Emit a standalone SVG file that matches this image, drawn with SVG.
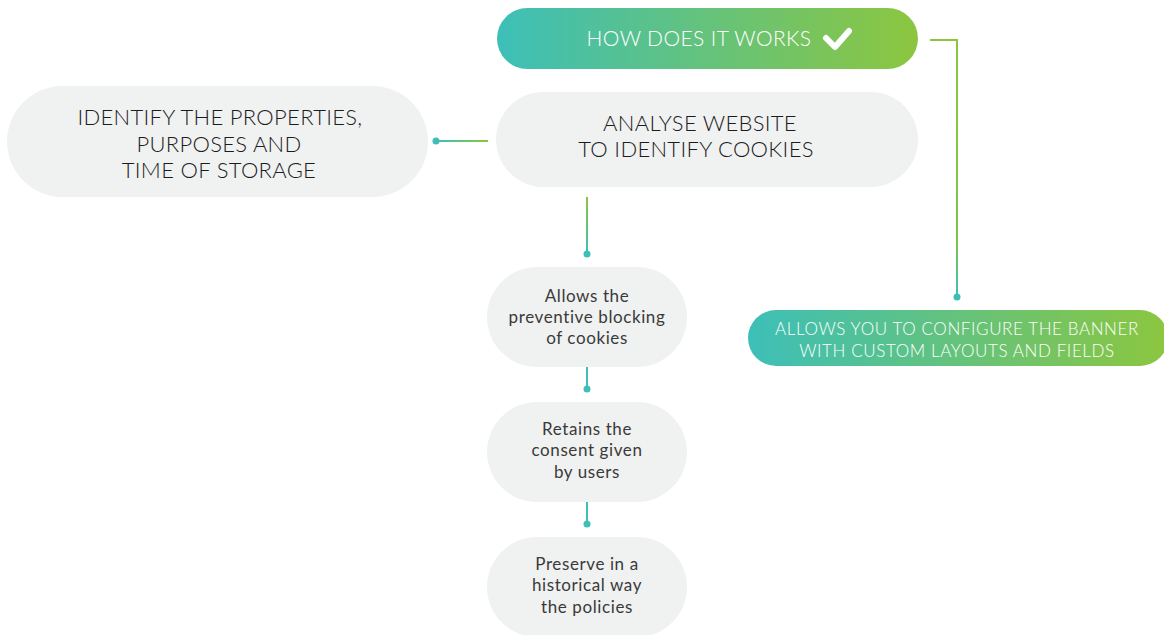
<svg xmlns="http://www.w3.org/2000/svg" width="1164" height="635" viewBox="0 0 1164 635">
<defs>
<linearGradient id="gH" x1="0" y1="0" x2="1" y2="0">
<stop offset="0" stop-color="#3dbfb8"/><stop offset="1" stop-color="#8cc63f"/>
</linearGradient>
<linearGradient id="gHl" gradientUnits="userSpaceOnUse" x1="436" y1="0" x2="488" y2="0">
<stop offset="0" stop-color="#3dbfb8"/><stop offset="1" stop-color="#8cc63f"/>
</linearGradient>
<linearGradient id="gV1" gradientUnits="userSpaceOnUse" x1="0" y1="197" x2="0" y2="254">
<stop offset="0" stop-color="#8cc63f"/><stop offset="1" stop-color="#3dbfb8"/>
</linearGradient>
<linearGradient id="gV2" gradientUnits="userSpaceOnUse" x1="0" y1="40" x2="0" y2="297">
<stop offset="0" stop-color="#8cc63f"/><stop offset="0.8" stop-color="#7cc44e"/><stop offset="1" stop-color="#3dbfb8"/>
</linearGradient>
<style>
.grey{fill:#f0f1f1}
.t{font-family:Lato,"Open Sans","Liberation Sans",sans-serif;text-anchor:middle;fill:#1c1c1c}
.big{font-size:22px;font-weight:300;letter-spacing:0.3px}
.sm{font-size:17px;font-weight:400;fill:#3a3a3a;letter-spacing:0.6px}
.ban{font-size:17px;font-weight:300;letter-spacing:0.6px}
.w{fill:#ffffff}
.dot{fill:#3dbfb8}
</style>
</defs>
<g id="connectors" fill="none" stroke-width="2">
<line x1="436" y1="141" x2="488" y2="141" stroke="url(#gHl)"/>
<polyline points="930,40 957,40 957,297" stroke="url(#gV2)"/>
<line x1="587" y1="197" x2="587" y2="254" stroke="url(#gV1)"/>
<line x1="587" y1="367" x2="587" y2="389" stroke="#3dbfb8"/>
<line x1="587" y1="502" x2="587" y2="524" stroke="#3dbfb8"/>
<circle class="dot" cx="436" cy="141" r="3.5" stroke="none"/>
<circle class="dot" cx="957" cy="297" r="3.5" stroke="none"/>
<circle class="dot" cx="587" cy="254" r="3.5" stroke="none"/>
<circle class="dot" cx="587" cy="389" r="3.5" stroke="none"/>
<circle class="dot" cx="587" cy="524" r="3.5" stroke="none"/>
</g>
<g id="how">
<rect x="497" y="8" width="421" height="61" rx="30.5" fill="url(#gH)"/>
<text class="t w" x="699" y="46" style="font-size:21px;font-weight:300;letter-spacing:0.4px">HOW DOES IT WORKS</text>
<path d="M826,38 L835,47 L849,31" fill="none" stroke="#fff" stroke-width="6" stroke-linecap="round" stroke-linejoin="round"/>
</g>
<g id="analyse">
<rect class="grey" x="496" y="92" width="422" height="95" rx="47.5"/>
<text class="t big" x="700" y="131">ANALYSE WEBSITE</text>
<text class="t big" x="696" y="157">TO IDENTIFY COOKIES</text>
</g>
<g id="identify">
<rect class="grey" x="7" y="86" width="421" height="111" rx="55.5"/>
<text class="t big" x="220" y="125">IDENTIFY THE PROPERTIES,</text>
<text class="t big" x="219" y="152">PURPOSES AND</text>
<text class="t big" x="219" y="178">TIME OF STORAGE</text>
</g>
<g id="banner">
<rect x="748" y="310" width="420" height="56" rx="28" fill="url(#gH)"/>
<text class="t ban w" x="957" y="335">ALLOWS YOU TO CONFIGURE THE BANNER</text>
<text class="t ban w" x="957" y="357">WITH CUSTOM LAYOUTS AND FIELDS</text>
</g>
<g id="allows">
<rect class="grey" x="487" y="267" width="200" height="100" rx="50"/>
<text class="t sm" x="587" y="302">Allows the</text>
<text class="t sm" x="587" y="323">preventive blocking</text>
<text class="t sm" x="587" y="344">of cookies</text>
</g>
<g id="retains">
<rect class="grey" x="487" y="402" width="200" height="100" rx="50"/>
<text class="t sm" x="587" y="435">Retains the</text>
<text class="t sm" x="587" y="456">consent given</text>
<text class="t sm" x="587" y="478">by users</text>
</g>
<g id="preserve">
<rect class="grey" x="487" y="537" width="200" height="100" rx="50"/>
<text class="t sm" x="587" y="570">Preserve in a</text>
<text class="t sm" x="587" y="591">historical way</text>
<text class="t sm" x="587" y="613">the policies</text>
</g>
</svg>
